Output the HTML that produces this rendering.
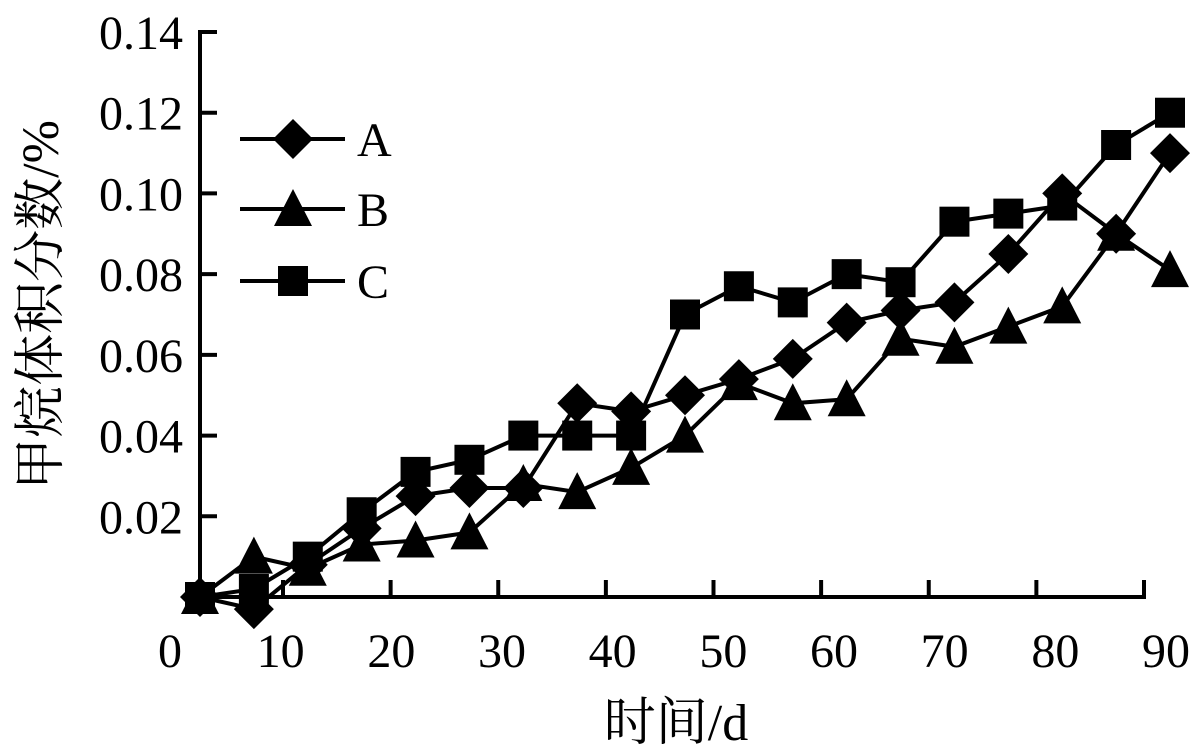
<!DOCTYPE html>
<html><head><meta charset="utf-8"><style>
body{margin:0;background:#fff}
svg{display:block}
text{font-family:"Liberation Serif","Noto Serif CJK SC","Noto Sans CJK SC",serif;fill:#000}
</style></head><body>
<svg id="chart" width="1203" height="756" viewBox="0 0 1203 756" xmlns="http://www.w3.org/2000/svg">
<g id="axes"></g>
<g id="series"></g>
<g id="legend"></g>
<text transform="translate(58,305) rotate(-90)" text-anchor="middle" font-size="52">甲烷体积分数/%</text>
<text x="676" y="740" text-anchor="middle" font-size="52">时间/d</text>
</svg>
<script>
const seriesA=[0.000,-0.003,0.008,0.017,0.025,0.027,0.027,0.048,0.046,0.050,0.054,0.059,0.068,0.071,0.073,0.085,0.100,0.090,0.110];
const seriesB=[0.000,0.010,0.007,0.013,0.014,0.016,0.028,0.026,0.032,0.040,0.053,0.048,0.049,0.064,0.062,0.067,0.072,0.090,0.081];
const seriesC=[0.000,0.002,0.010,0.021,0.031,0.034,0.040,0.040,0.040,0.070,0.077,0.073,0.080,0.078,0.093,0.095,0.097,0.112,0.120];
const yTicks=[0.02,0.04,0.06,0.08,0.10,0.12,0.14];
const yTickLabels=["0.02","0.04","0.06","0.08","0.10","0.12","0.14"];
const xTickLabels=["0","10","20","30","40","50","60","70","80","90"];
const seriesNames=["A","B","C"];

const NS="http://www.w3.org/2000/svg";
function mk(tag,attrs,parent){const e=document.createElementNS(NS,tag);for(const k in attrs)e.setAttribute(k,attrs[k]);parent.appendChild(e);return e;}
const y0=597,yTop=32,vMax=0.14;
function yS(v){return y0-v/vMax*(y0-yTop);}
function xS(i,n){return 200+i*(1170-200)/(n-1);}
const axes=document.getElementById('axes');
let l=mk('line',{x1:200,y1:yTop-2,x2:200,y2:y0+2,stroke:'#000','stroke-width':4},axes);


l=mk('line',{x1:198,y1:y0,x2:1146,y2:y0,stroke:'#000','stroke-width':4},axes);


yTicks.forEach((v,i)=>{
  const t=mk('line',{x1:200,y1:yS(v),x2:217,y2:yS(v),stroke:'#000','stroke-width':4},axes);
  
  
  const tx=mk('text',{x:183,y:yS(v)+17,'text-anchor':'end','font-size':48},axes);
  tx.textContent=yTickLabels[i];
  
  
});
xTickLabels.forEach((s,i)=>{
  const lx=170+i*(1166-170)/(xTickLabels.length-1);
  if(i>0){
    const tx0=283+(i-1)*(1144-283)/(xTickLabels.length-2);
    const t=mk('line',{x1:tx0,y1:y0,x2:tx0,y2:y0-17,stroke:'#000','stroke-width':4},axes);
    
    
  }
  const tx=mk('text',{x:lx,y:667,'text-anchor':'middle','font-size':48},axes);
  tx.textContent=s;
  
  
});
function marker(type,x,y,parent){
  let e;
  if(type==='diamond')e=mk('polygon',{points:`${x},${y-20} ${x+20},${y} ${x},${y+20} ${x-20},${y}`,fill:'#000'},parent);
  else if(type==='triangle')e=mk('polygon',{points:`${x},${y-20} ${x+19},${y+17} ${x-19},${y+17}`,fill:'#000'},parent);
  else e=mk('rect',{x:x-15,y:y-15,width:30,height:30,fill:'#000'},parent);
  return e;
}
const sg=document.getElementById('series');
const types=['diamond','triangle','square'];
[seriesA,seriesB,seriesC].forEach((arr,si)=>{
  const g=mk('g',{},sg);
  
  
  const pts=arr.map((v,i)=>xS(i,arr.length)+','+yS(v)).join(' ');
  const pl=mk('polyline',{points:pts,fill:'none',stroke:'#000','stroke-width':4},g);
  
  
  arr.forEach((v,i)=>{
    const m=marker(types[si],xS(i,arr.length),yS(v),g);
    
    
  });
});
const lg=document.getElementById('legend');
const ly=[139,209,281];
seriesNames.forEach((n,i)=>{
  const g=mk('g',{},lg);
  
  
  mk('line',{x1:240,y1:ly[i],x2:345,y2:ly[i],stroke:'#000','stroke-width':4},g);
  marker(types[i],293,ly[i],g);
  const t=mk('text',{x:357,y:ly[i]+17,'font-size':48},g);
  t.textContent=n;
});
</script>
</body></html>
